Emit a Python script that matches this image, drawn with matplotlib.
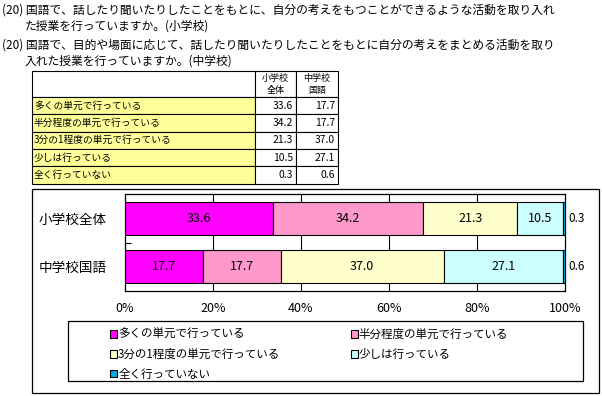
import numpy as np
import matplotlib
matplotlib.use('Agg')
import matplotlib.pyplot as plt
from matplotlib.patches import Rectangle

plt.rcParams['font.family'] = ['Noto Sans CJK JP', 'DejaVu Sans']

# data
title_lines = ['(20) 国語で、話したり聞いたりしたことをもとに、自分の考えをもつことができるような活動を取り入れ',
               'た授業を行っていますか。(小学校)',
               '(20) 国語で、目的や場面に応じて、話したり聞いたりしたことをもとに自分の考えをまとめる活動を取り',
               '入れた授業を行っていますか。(中学校)']
answers = ['多くの単元で行っている', '半分程度の単元で行っている', '3分の1程度の単元で行っている',
           '少しは行っている', '全く行っていない']
groups = ['小学校全体', '中学校国語']
col_heads = ['小学校\n全体', '中学校\n国語']
shou = [33.6, 34.2, 21.3, 10.5, 0.3]
chuu = [17.7, 17.7, 37.0, 27.1, 0.6]
colors = ['#FF00FF', '#FF99CC', '#FFFFCC', '#CCFFFF', '#00A8E8']
xticks = [0, 20, 40, 60, 80, 100]

W, H = 602, 396
fig = plt.figure(figsize=(W/100, H/100), dpi=100)
bg = fig.add_axes([0, 0, 1, 1])
bg.set_xlim(0, W)
bg.set_ylim(H, 0)
bg.axis('off')

# titles
title_pos = [(2, 10), (25, 26), (2, 45), (25, 61)]
for (tx, ty), s in zip(title_pos, title_lines):
    bg.text(tx, ty, s, fontsize=8.5, va='center', ha='left')

# table
xs = [32, 255, 296, 338]
ys = [71, 97, 114.3, 131.7, 149, 166.3, 183.6]
for r in range(len(ys) - 1):
    for c in range(len(xs) - 1):
        fc = '#FFFF99' if (c == 0 and r > 0) else 'white'
        bg.add_patch(Rectangle((xs[c], ys[r]), xs[c+1]-xs[c], ys[r+1]-ys[r],
                               facecolor=fc, edgecolor='black', lw=0.8))
for c, s in enumerate(col_heads):
    for k, part in enumerate(s.split('\n')):
        bg.text((xs[c+1] + xs[c+2]) / 2, 78 + k*12.5, part, fontsize=6.5, ha='center', va='center')
for r, lab in enumerate(answers):
    yc = (ys[r+1] + ys[r+2]) / 2
    bg.text(xs[0] + 2, yc, lab, fontsize=7, ha='left', va='center')
    bg.text(xs[2] - 3, yc, f'{shou[r]:.1f}', fontsize=7.5, ha='right', va='center')
    bg.text(xs[3] - 3, yc, f'{chuu[r]:.1f}', fontsize=7.5, ha='right', va='center')

# chart frame and legend frame
bg.add_patch(Rectangle((32, 189), 567, 204, facecolor='none', edgecolor='black', lw=0.9))
bg.add_patch(Rectangle((68, 321), 515, 60, facecolor='none', edgecolor='black', lw=0.9))

# bar chart
ax = fig.add_axes([125/W, 1 - 291/H, 440/W, 97/H])
ax.set_xlim(0, 100)
ax.set_ylim(1.5, -0.5)
data = np.array([shou, chuu])
left = np.zeros(len(groups))
handles = []
for j in range(len(answers)):
    b = ax.barh(range(len(groups)), data[:, j], left=left, height=0.68,
                color=colors[j], edgecolor='black', linewidth=0.8, zorder=3,
                label=answers[j])
    handles.append(b)
    for i, v in enumerate(data[:, j]):
        if v >= 5:
            ax.text(left[i] + v/2, i, f'{v:.1f}', ha='center', va='center', fontsize=9, zorder=4)
        else:
            ax.text(100.8, i, f'{v:.1f}', ha='left', va='center', fontsize=8.5, clip_on=False)
    left += data[:, j]

for x in xticks[1:-1]:
    ax.axvline(x, color='black', lw=0.8, zorder=1)
ax.set_xticks(xticks)
ax.set_xticklabels([f'{x}%' for x in xticks], fontsize=9)
ax.tick_params(axis='x', length=0, pad=8)
ax.set_yticks(range(len(groups)))
ax.set_yticklabels(groups, fontsize=9.8)
ax.tick_params(axis='y', length=0, pad=13)
ax.set_yticks([0.5], minor=True)
ax.tick_params(axis='y', which='minor', direction='in', length=4, width=0.8)
for sp in ax.spines.values():
    sp.set_linewidth(0.9)

order = [0, 2, 4, 1, 3]
fig.legend([handles[k] for k in order], [answers[k] for k in order], ncol=2,
           loc='upper left', bbox_to_anchor=(102/W, 1 - 320/H), frameon=False,
           fontsize=8.3, handlelength=0.6, handleheight=0.6, handletextpad=0.1,
           columnspacing=6.1, labelspacing=0.6, borderpad=0.2)

fig.savefig('out.png', dpi=100)
